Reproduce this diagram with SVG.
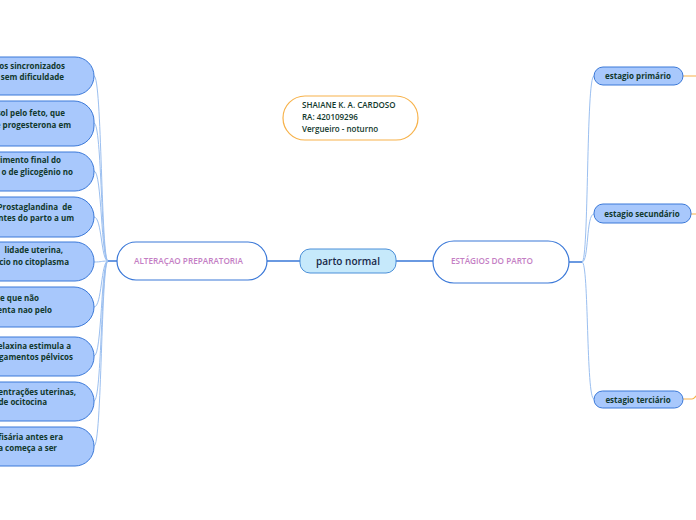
<svg xmlns="http://www.w3.org/2000/svg" width="696" height="520" viewBox="0 0 696 520">
<style>
.t{font-family:"Open Sans","Noto Sans","Liberation Sans",sans-serif;font-weight:600;}
.leaf rect{fill:#a8c8fc;stroke:#3a78d8;stroke-width:1;}
.leaf text{font-size:8px;font-weight:700;fill:#11382c;text-anchor:end;}
.stage rect{fill:#a8c8fc;stroke:#3a78d8;stroke-width:1;}
.stage text{font-size:8px;font-weight:700;fill:#11382c;text-anchor:middle;}
.br{fill:none;stroke:#9bbff0;stroke-width:1;}
.main{fill:none;stroke:#3a78d8;stroke-width:1.5;}
.or{fill:none;stroke:#f7b24a;stroke-width:1.2;}
.sub rect{fill:#fff;stroke:#3a78d8;stroke-width:1.2;}
.sub text{font-size:8.2px;fill:#c47ec4;}
</style>
<rect width="696" height="520" fill="#fff"/>
<g id="connectors">
<path class="main" d="M267 261 H300 M396 261 H433 M569 262 H582 M117 261 H108"/>
<path class="br" d="M108 261 C101 261 102 76 94 76"/>
<path class="br" d="M108 261 C101 261 102 123 94 123"/>
<path class="br" d="M108 261 C101 261 102 171 94 171"/>
<path class="br" d="M108 261 C101 261 102 217 94 217"/>
<path class="br" d="M108 261 C101 261 102 262 94 262"/>
<path class="br" d="M108 261 C101 261 102 307 94 307"/>
<path class="br" d="M108 261 C101 261 102 356 94 356"/>
<path class="br" d="M108 261 C101 261 102 401 94 401"/>
<path class="br" d="M108 261 C101 261 102 446 94 446"/>
<path class="br" d="M582 262 C589 262 586 76 594 76"/>
<path class="br" d="M582 262 C589 262 586 214 594 214"/>
<path class="br" d="M582 262 C589 262 586 399 594 399"/>
<path class="or" d="M683 76 H696 M691 214 H696 M683 399 H692 C694 399 695 397 696 396"/>
</g>
<g id="n1" class="leaf"><rect x="-40" y="57" width="134" height="38" rx="19"/><text class="t" x="65" y="68.5">os sincronizados</text><text class="t" x="64" y="79.5">sem dificuldade</text></g>
<g id="n2" class="leaf"><rect x="-40" y="101" width="134" height="45" rx="20"/><text class="t" x="65" y="116">sol pelo feto, que</text><text class="t" x="71" y="128">e progesterona em</text></g>
<g id="n3" class="leaf"><rect x="-40" y="152" width="134" height="39" rx="19"/><text class="t" x="61" y="163">rimento final do</text><text class="t" x="73" y="175">o de glicogênio no</text></g>
<g id="n4" class="leaf"><rect x="-40" y="197" width="134" height="40" rx="20"/><text class="t" x="72" y="210" xml:space="preserve">Prostaglandina  de</text><text class="t" x="74" y="221">ntes do parto a um</text></g>
<g id="n5" class="leaf"><rect x="-40" y="242" width="134" height="39" rx="19"/><text class="t" x="63" y="253">lidade uterina,</text><text class="t" x="69" y="265">cio no citoplasma</text></g>
<g id="n6" class="leaf"><rect x="-40" y="287" width="134" height="40" rx="20"/><text class="t" x="39" y="301">e que não</text><text class="t" x="52" y="313">enta nao pelo</text></g>
<g id="n7" class="leaf"><rect x="-40" y="337" width="134" height="39" rx="19"/><text class="t" x="71" y="349">elaxina estimula a</text><text class="t" x="73" y="360">gamentos pélvicos</text></g>
<g id="n8" class="leaf"><rect x="-40" y="382" width="134" height="39" rx="19"/><text class="t" x="76" y="395">entrações uterinas,</text><text class="t" x="47" y="405">de ocitocina</text></g>
<g id="n9" class="leaf"><rect x="-40" y="427" width="134" height="39" rx="19"/><text class="t" x="63" y="440">fisária antes era</text><text class="t" x="57" y="451">a começa a ser</text></g>
<g id="alteracao" class="sub"><rect x="117" y="242" width="150" height="38" rx="19"/><text class="t" x="134" y="264">ALTERAÇAO PREPARATORIA</text></g>
<g id="parto"><rect x="300" y="249" width="96" height="24" rx="10" fill="#c6e9fb" stroke="#4a8fd8" stroke-width="1"/><text class="t" x="348" y="265" font-size="10" fill="#182848" text-anchor="middle" font-weight="700">parto normal</text></g>
<g id="estagios" class="sub"><rect x="433" y="241" width="136" height="42" rx="21"/><text class="t" x="451" y="264">ESTÁGIOS DO PARTO</text></g>
<g id="autor"><rect x="283" y="96" width="135" height="44" rx="22" fill="#fff" stroke="#f7b24a" stroke-width="1.2"/><text class="t" font-size="8" font-weight="700" fill="#11382c"><tspan x="302" y="108">SHAIANE K. A. CARDOSO</tspan><tspan x="302" y="120">RA: 420109296</tspan><tspan x="302" y="132">Vergueiro - noturno</tspan></text></g>
<g id="s1" class="stage"><rect x="594" y="67" width="89" height="18" rx="9"/><text class="t" x="638" y="79">estagio primário</text></g>
<g id="s2" class="stage"><rect x="594" y="204" width="97" height="19" rx="9"/><text class="t" x="642" y="216.5">estagio secundário</text></g>
<g id="s3" class="stage"><rect x="594" y="391" width="89" height="17" rx="8.5"/><text class="t" x="638" y="402.5">estagio terciário</text></g>
</svg>
